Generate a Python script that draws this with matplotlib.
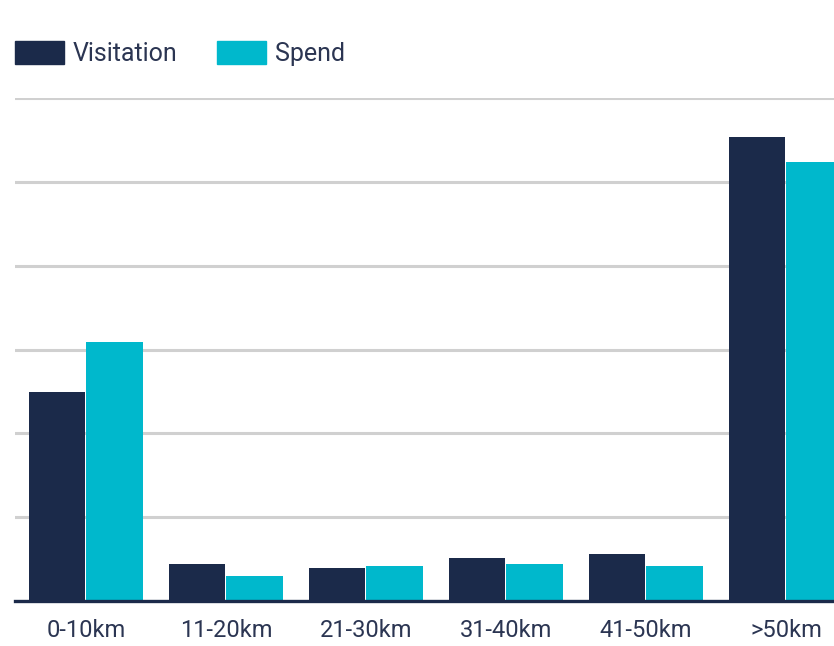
import numpy as np
import matplotlib.pyplot as plt
from matplotlib.patches import Patch

plt.rcParams['font.family'] = ['Roboto', 'DejaVu Sans']

distances = ['0-10km', '11-20km', '21-30km', '31-40km', '41-50km', '>50km']
visitation = [24.9, 4.4, 3.9, 5.1, 5.6, 55.3]
spend = [30.9, 3.0, 4.2, 4.4, 4.2, 52.4]

navy = '#1b2a4a'
cyan = '#00b8cc'
text_col = '#2b3552'

fig = plt.figure(figsize=(8.34, 6.46), dpi=100)
ax = fig.add_axes([15 / 834, 45 / 646, 819 / 834, 503 / 646])

x = np.arange(len(distances))
w = 0.405
ax.bar(x - 0.206, visitation, w, color=navy, zorder=3)
ax.bar(x + 0.206, spend, w, color=cyan, zorder=3)

ax.set_xlim(-0.507, 5.343)
ax.set_ylim(0, 60)
ax.set_yticks(np.arange(0, 61, 10))
ax.yaxis.grid(True, color='#d0d0d0', linewidth=2.2, zorder=0)
ax.tick_params(axis='y', left=False, labelleft=False)
ax.set_xticks(x)
ax.set_xticklabels(distances, fontsize=17, color=text_col)
ax.tick_params(axis='x', length=0, pad=13)

for s in ['top', 'right', 'left']:
    ax.spines[s].set_visible(False)
ax.spines['bottom'].set_color(navy)
ax.spines['bottom'].set_linewidth(2.4)
ax.spines['bottom'].set_zorder(4)

handles = [Patch(color=navy, label='Visitation'), Patch(color=cyan, label='Spend')]
leg = fig.legend(handles=handles, loc='upper left', bbox_to_anchor=(15 / 834, 1 - 41 / 646),
                 ncol=2, frameon=False, fontsize=18, handlelength=1.96, handleheight=1.05,
                 handletextpad=0.36, columnspacing=1.55, borderpad=0, borderaxespad=0)
for t in leg.get_texts():
    t.set_color(text_col)

fig.savefig('out.png', dpi=100)
